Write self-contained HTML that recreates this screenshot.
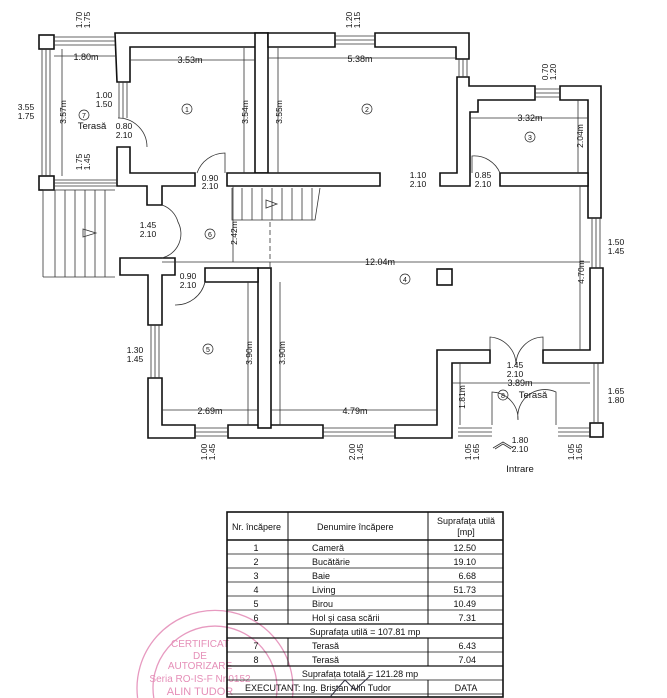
<!DOCTYPE html>
<html><head><meta charset="utf-8"><style>
html,body{margin:0;padding:0;background:#fff;width:667px;height:698px;overflow:hidden;}
svg{display:block;font-family:"Liberation Sans",sans-serif;}
</style></head><body>
<svg width="667" height="698" viewBox="0 0 667 698" xmlns="http://www.w3.org/2000/svg">
<rect width="667" height="698" fill="#fff"/>
<g fill="#fff" stroke="#111" stroke-width="1.6">
<rect x="39" y="35" width="15" height="14"/>
<rect x="39" y="176" width="15" height="14"/>
<path d="M115 33 H268 V47 H130 V82 H117 Z"/>
<rect x="255" y="33" width="13" height="140"/>
<path d="M268 33 H335 V47 H268 Z"/>
<path d="M375 33 H469 V59 H456 V47 H375 Z"/>
<path d="M457 77 H469 V86 H535 V100 H478 V112 H470 V186 H440 V173 H457 Z"/>
<path d="M560 86 H601 V218 H588 V100 H560 Z"/>
<path d="M117 147 H130 V173 H195 V186 H162 V205 H147 V186 H117 Z"/>
<path d="M227 173 H380 V186 H227 Z"/>
<path d="M500 173 H588 V186 H500 Z"/>
<path d="M590 268 H603 V363 H543 V350 H590 Z"/>
<path d="M437 350 H490 V363 H452 V438 H395 V425 H437 Z"/>
<path d="M228 425 H323 V438 H228 Z"/>
<rect x="258" y="268" width="13" height="160"/>
<path d="M205 268 H258 V282 H205 Z"/>
<path d="M148 378 H162 V425 H195 V438 H148 Z"/>
<path d="M148 258 H162 V258 H175 V275 H162 V325 H148 V275 H120 V258 H148 Z"/>
<rect x="590" y="423" width="13" height="14"/>
<rect x="437" y="269" width="15" height="16"/>
</g>
<g stroke="#333" stroke-width="0.8" fill="none">
<path d="M54 37 H115 M54 41 H115 M54 45 H115"/>
<path d="M42 49 V176 M46 49 V176 M50 49 V176"/>
<path d="M54 180 H117 M54 183 H117 M54 186 H117"/>
<path d="M119 82 V118 M123 82 V118 M127 82 V118"/>
<path d="M335 36 H375 M335 40 H375 M335 44 H375"/>
<path d="M459 59 V77 M463 59 V77 M467 59 V77"/>
<path d="M535 89 H560 M535 93 H560 M535 97 H560"/>
<path d="M592 218 V268 M596 218 V268 M600 218 V268"/>
<path d="M151 325 V378 M155 325 V378 M159 325 V378"/>
<path d="M195 428 H228 M195 432 H228 M195 436 H228"/>
<path d="M323 428 H395 M323 432 H395 M323 436 H395"/>
<path d="M458 428 H492 M458 432 H492 M458 436 H492"/>
<path d="M558 428 H590 M558 432 H590 M558 436 H590"/>
<path d="M594 363 V423 M598 363 V423"/>
<path d="M118 118 A29 29 0 0 1 147 147"/>
<path d="M197 173 A30 30 0 0 1 225 153 V173"/>
<path d="M472 173 V156 A28 28 0 0 1 500 173"/>
<path d="M162 205 A25 25 0 0 1 178 222 A25 25 0 0 1 162 258"/>
<path d="M175 305 A30 30 0 0 0 205 282"/>
<path d="M490 350 V337 A28 28 0 0 1 516 365 A28 28 0 0 1 543 337 V350"/>
<path d="M492 425 V392 A27 27 0 0 1 518 420 A27 27 0 0 1 556 392 V425"/>
<path d="M43 190 H115 M43 277 H115 M43 190 V277"/>
<path d="M55 190V277M65 190V277M75 190V277M85 190V277M95 190V277M105 190V277"/>
<path d="M83 229 L96 233 L83 237 Z"/>
<path d="M232 188 V220 H315 L320 188"/>
<path d="M242 188V220M252 188V220M262 188V220M272 188V220M282 188V220M292 188V220M302 188V220M312 188V220"/>
<path d="M266 200 L277 204 L266 208 Z"/>
<path d="M270 222 V270" stroke-dasharray="5,3"/>
<path d="M54 56 H115 M130 60 H255 M268 58 H456 M470 118 H588 M162 262 H590 M162 410 H258 M271 410 H437 M452 383 H590"/>
<path d="M62 49 V176 M244 48 V173 M278 48 V173 M578 100 V173 M233 186 V262 M580 186 V350 M248 282 V425 M280 282 V425 M460 363 V425"/>
<path d="M493 448 L503 442 L513 448 M495 449 L503 444 L511 449"/>
</g>
<g font-size="8.5" fill="#111" text-anchor="middle">
<text x="86" y="60" font-size="9">1.80m</text>
<text x="190" y="63" font-size="9">3.53m</text>
<text x="360" y="62" font-size="9">5.38m</text>
<text x="530" y="121" font-size="9">3.32m</text>
<text x="380" y="265" font-size="9">12.04m</text>
<text x="210" y="414" font-size="9">2.69m</text>
<text x="355" y="414" font-size="9">4.79m</text>
<text x="520" y="386" font-size="9">3.89m</text>
<text x="104" y="98">1.00</text><text x="104" y="107">1.50</text>
<text x="124" y="129">0.80</text><text x="124" y="138">2.10</text>
<text x="210" y="181">0.90</text><text x="210" y="189">2.10</text>
<text x="418" y="178">1.10</text><text x="418" y="187">2.10</text>
<text x="483" y="178">0.85</text><text x="483" y="187">2.10</text>
<text x="148" y="228">1.45</text><text x="148" y="237">2.10</text>
<text x="188" y="279">0.90</text><text x="188" y="288">2.10</text>
<text x="135" y="353">1.30</text><text x="135" y="362">1.45</text>
<text x="515" y="368">1.45</text><text x="515" y="377">2.10</text>
<text x="520" y="443">1.80</text><text x="520" y="452">2.10</text>
<text x="616" y="245">1.50</text><text x="616" y="254">1.45</text>
<text x="616" y="394">1.65</text><text x="616" y="403">1.80</text>
<text x="26" y="110">3.55</text><text x="26" y="119">1.75</text>
<text x="520" y="472" font-size="9.5">Intrare</text>
<text x="92" y="129" font-size="9.5">Terasă</text>
<text x="533" y="398" font-size="9.5">Terasă</text>
</g>
<g font-size="8.5" fill="#111" text-anchor="middle">
<text transform="translate(66,112) rotate(-90)">3.57m</text>
<text transform="translate(248,112) rotate(-90)">3.54m</text>
<text transform="translate(282,112) rotate(-90)">3.55m</text>
<text transform="translate(583,136) rotate(-90)">2.04m</text>
<text transform="translate(237,233) rotate(-90)">2.42m</text>
<text transform="translate(584,272) rotate(-90)">4.70m</text>
<text transform="translate(252,353) rotate(-90)">3.90m</text>
<text transform="translate(285,353) rotate(-90)">3.90m</text>
<text transform="translate(465,397) rotate(-90)">1.81m</text>
<text transform="translate(82,20) rotate(-90)">1.70</text><text transform="translate(90,20) rotate(-90)">1.75</text>
<text transform="translate(352,20) rotate(-90)">1.20</text><text transform="translate(360,20) rotate(-90)">1.15</text>
<text transform="translate(548,72) rotate(-90)">0.70</text><text transform="translate(556,72) rotate(-90)">1.20</text>
<text transform="translate(82,162) rotate(-90)">1.75</text><text transform="translate(90,162) rotate(-90)">1.45</text>
<text transform="translate(207,452) rotate(-90)">1.00</text><text transform="translate(215,452) rotate(-90)">1.45</text>
<text transform="translate(355,452) rotate(-90)">2.00</text><text transform="translate(363,452) rotate(-90)">1.45</text>
<text transform="translate(471,452) rotate(-90)">1.05</text><text transform="translate(479,452) rotate(-90)">1.65</text>
<text transform="translate(574,452) rotate(-90)">1.05</text><text transform="translate(582,452) rotate(-90)">1.65</text>
</g>
<g fill="none" stroke="#222" stroke-width="0.7">
<circle cx="187" cy="109" r="5"/><circle cx="367" cy="109" r="5"/><circle cx="530" cy="137" r="5"/>
<circle cx="210" cy="234" r="5"/><circle cx="405" cy="279" r="5"/><circle cx="208" cy="349" r="5"/>
<circle cx="84" cy="115" r="5"/><circle cx="503" cy="395" r="5"/>
</g>
<g font-size="7" text-anchor="middle" fill="#111">
<text x="187" y="112">1</text><text x="367" y="112">2</text><text x="530" y="140">3</text>
<text x="210" y="237">6</text><text x="405" y="282">4</text><text x="208" y="352">5</text>
<text x="84" y="118">7</text><text x="503" y="398">8</text>
</g>
<g fill="none" stroke="#e79ac0" stroke-width="1.3">
<path d="M137.6 698 A78 78 0 1 1 292.4 698"/>
<path d="M153.8 698 A62 62 0 1 1 276.2 698"/>
</g>
<g fill="#e58fb8" font-size="10" text-anchor="middle">
<text x="200" y="647">CERTIFICAT</text><text x="200" y="659">DE</text>
<text x="200" y="669">AUTORIZARE</text><text x="200" y="682">Seria RO-IS-F Nr.0152</text>
<text x="200" y="695" font-size="11">ALIN TUDOR</text>
</g>
<g stroke="#111" fill="none">
<rect x="227" y="512" width="276" height="185" stroke-width="1.6"/>
<path d="M227 540 H503" stroke-width="1.4"/>
<path d="M227 554H503M227 568H503M227 582H503M227 596H503M227 610H503M227 652H503M227 680H503M227 694H503" stroke-width="0.7"/>
<path d="M227 624H503M227 638H503M227 666H503" stroke-width="1.2"/>
<path d="M288 512V624M288 638V666M428 512V624M428 638V666M428 680V697" stroke-width="1"/>
</g>
<g font-size="9" fill="#111">
<text x="232" y="530">Nr. încăpere</text>
<text x="317" y="530">Denumire încăpere</text>
<text x="466" y="524" text-anchor="middle">Suprafața utilă</text>
<text x="466" y="535" text-anchor="middle">[mp]</text>
<g text-anchor="middle"><text x="256" y="551">1</text><text x="256" y="565">2</text><text x="256" y="579">3</text><text x="256" y="593">4</text><text x="256" y="607">5</text><text x="256" y="621">6</text><text x="256" y="649">7</text><text x="256" y="663">8</text></g>
<text x="312" y="551">Cameră</text><text x="312" y="565">Bucătărie</text><text x="312" y="579">Baie</text><text x="312" y="593">Living</text><text x="312" y="607">Birou</text><text x="312" y="621">Hol și casa scării</text><text x="312" y="649">Terasă</text><text x="312" y="663">Terasă</text>
<g text-anchor="end"><text x="476" y="551">12.50</text><text x="476" y="565">19.10</text><text x="476" y="579">6.68</text><text x="476" y="593">51.73</text><text x="476" y="607">10.49</text><text x="476" y="621">7.31</text><text x="476" y="649">6.43</text><text x="476" y="663">7.04</text></g>
<text x="365" y="635" text-anchor="middle">Suprafața utilă = 107.81 mp</text>
<text x="360" y="677" text-anchor="middle">Suprafața totală =  121.28 mp</text>
<text x="245" y="691">EXECUTANT: Ing. Bristan Alin Tudor</text>
<text x="466" y="691" text-anchor="middle">DATA</text>
</g>
<path d="M330 697 L345 680 L355 690 L370 676" stroke="#334" fill="none" stroke-width="1"/>
</svg>
</body></html>
